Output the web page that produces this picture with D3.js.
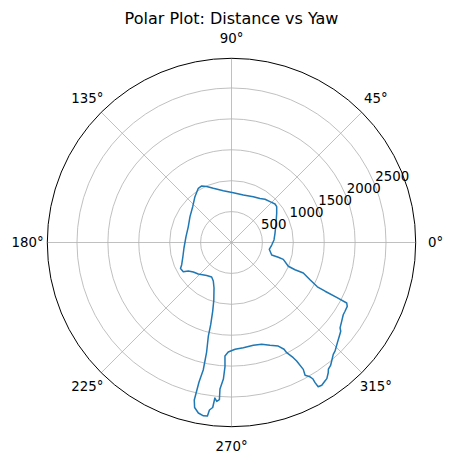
<!DOCTYPE html>
<html>
<head>
<meta charset="utf-8">
<script src="https://cdn.jsdelivr.net/npm/d3@7"></script>
<style>
  body { margin: 0; background: #fff; }
  text { font-family: 'DejaVu Sans', sans-serif; fill: #000; }
</style>
</head>
<body>
<svg width="453" height="464"></svg>
<script>
// yaw in degrees (counter-clockwise from 0°), distance in data units
const yawDeg = [
  -88.1, -83.6, -78.0, -73.5, -69.5, -65.7, -63.8, -63.4, -61.8, -61.2,
  -60.5, -61.0, -59.7, -59.2, -59.2, -59.0, -57.7, -56.0, -55.0, -53.4,
  -52.6, -51.1, -49.8, -47.7, -46.3, -45.2, -43.4, -40.9, -39.1, -38.2,
  -35.6, -32.9, -31.2, -28.9, -27.7, -27.6, -27.5, -27.3, -25.4, -23.0,
  -23.2, -22.7, -18.0, -17.5, -17.3, -10.2, -3.6, 3.4, 11.9, 23.3,
  32.9, 38.4, 41.5, 46.7, 52.2, 57.1, 64.6, 76.0, 87.9, 99.0,
  108.6, 113.9, 117.8, 121.5, 128.6, 137.3, 148.1, 160.1, 172.7, 186.6,
  197.6, 204.0, 207.0, 211.2, 213.4, 217.7, 223.5, 233.1, 240.1, 244.7,
  249.0, 252.9, 254.7, 255.8, 256.1, 257.2, 257.5, 256.9, 256.7, 257.4,
  259.0, 260.8, 262.1, 262.5, 263.5, 263.9, 264.7, 265.6, 265.5, 266.6,
  267.0, 266.7, 268.3, 271.9
];
const distance = [
  1729, 1713, 1700, 1718, 1776, 1838, 1925, 1994, 2115, 2188,
  2358, 2456, 2516, 2566, 2640, 2723, 2733, 2704, 2689, 2625,
  2581, 2554, 2511, 2446, 2426, 2399, 2358, 2309, 2277, 2235,
  2192, 2153, 2147, 2139, 2105, 1919, 1707, 1563, 1406, 1262,
  1118, 996, 881, 794, 681, 621, 652, 689, 719, 784,
  871, 933, 940, 908, 885, 848, 821, 792, 806, 849,
  925, 991, 1034, 1028, 948, 854, 791, 744, 742, 774,
  828, 882, 926, 912, 837, 781, 741, 668, 644, 689,
  789, 973, 1154, 1372, 1559, 1817, 2113, 2318, 2618, 2736,
  2810, 2840, 2834, 2733, 2687, 2530, 2581, 2551, 2378, 2213,
  2012, 1839, 1773, 1729
];
const rTicks = [500, 1000, 1500, 2000, 2500];
const thetaTicks = [0, 45, 90, 135, 180, 225, 270, 315];
const rMax = 2980;

const svg = d3.select('svg');
const cx = 231.5;
const cy = 242.5;
const outerR = 184.2;

const r = d3.scaleLinear().domain([0, rMax]).range([0, outerR]);
// matplotlib angle (ccw from east) -> d3 radial angle (cw from north)
const toD3 = deg => Math.PI / 2 - deg * Math.PI / 180;

svg.append('rect')
    .attr('width', 453)
    .attr('height', 464)
    .attr('fill', '#fff');

svg.append('text')
    .attr('x', 231.5)
    .attr('y', 24)
    .attr('text-anchor', 'middle')
    .style('font-size', '16px')
    .text('Polar Plot: Distance vs Yaw');

const g = svg.append('g')
    .attr('transform', `translate(${cx},${cy})`);

// grid
g.append('g')
  .selectAll('circle')
  .data(rTicks)
  .enter().append('circle')
    .attr('r', d => r(d))
    .attr('fill', 'none')
    .attr('stroke', '#b0b0b0')
    .attr('stroke-width', 0.8);

g.append('g')
  .selectAll('line')
  .data(thetaTicks)
  .enter().append('line')
    .attr('x1', 0)
    .attr('y1', 0)
    .attr('x2', d => outerR * Math.cos(d * Math.PI / 180))
    .attr('y2', d => -outerR * Math.sin(d * Math.PI / 180))
    .attr('stroke', '#b0b0b0')
    .attr('stroke-width', 0.8);

// data line
const pts = yawDeg.map((d, i) => [toD3(d), distance[i]]);
const line = d3.lineRadial()
    .angle(d => d[0])
    .radius(d => r(d[1]));

g.append('path')
    .datum(pts)
    .attr('d', line)
    .attr('fill', 'none')
    .attr('stroke', '#1f77b4')
    .attr('stroke-width', 1.5)
    .attr('stroke-linejoin', 'round');

// outer spine
g.append('circle')
    .attr('r', outerR)
    .attr('fill', 'none')
    .attr('stroke', '#000')
    .attr('stroke-width', 1);

// angle labels
g.append('g')
  .selectAll('text')
  .data(thetaTicks)
  .enter().append('text')
    .attr('x', d => 204 * Math.cos(d * Math.PI / 180))
    .attr('y', d => -204 * Math.sin(d * Math.PI / 180))
    .attr('text-anchor', 'middle')
    .attr('dominant-baseline', 'central')
    .style('font-size', '13.33px')
    .text(d => `${d}°`);

// radial labels at 22.5°
const labAng = 22.5 * Math.PI / 180;
g.append('g')
  .selectAll('text')
  .data(rTicks)
  .enter().append('text')
    .attr('x', d => r(d) * Math.cos(labAng) + 1)
    .attr('y', d => -r(d) * Math.sin(labAng) - 2)
    .style('font-size', '13.33px')
    .text(d => d);
</script>
</body>
</html>
